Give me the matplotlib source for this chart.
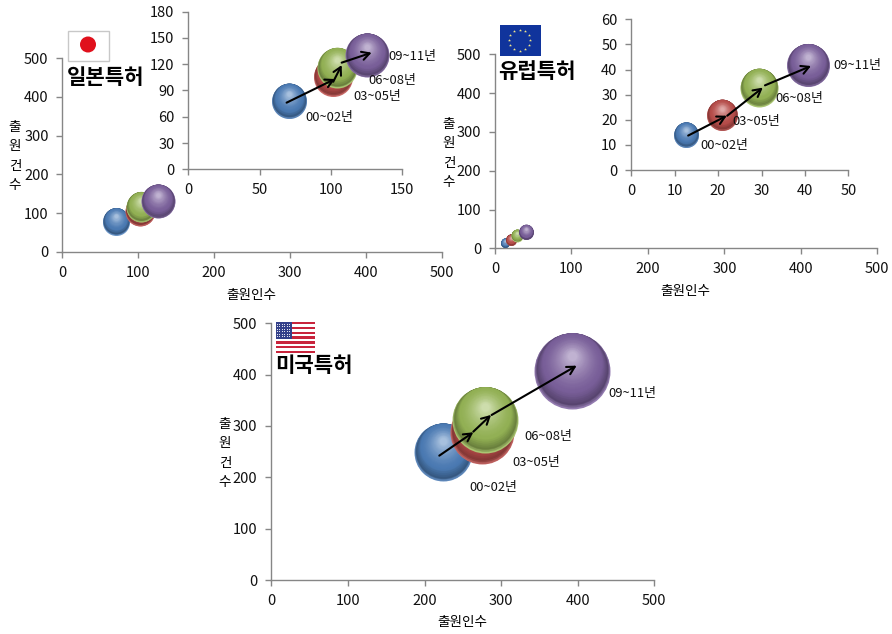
#!/usr/bin/env python3
# -*- coding: utf-8 -*-

import numpy as np
import matplotlib
matplotlib.use('Agg')
import matplotlib.pyplot as plt
from matplotlib.colors import to_rgb
from matplotlib.patches import Rectangle, Circle
from matplotlib.transforms import ScaledTranslation

plt.rcParams['font.family'] = ['Noto Sans CJK KR', 'DejaVu Sans']

W, H = 892, 634

periods = ['00~02년', '03~05년', '06~08년', '09~11년']
colors = ['#4f81bd', '#c0504d', '#9bbb59', '#8064a2']

# values
jp_x = [70.8, 101.6, 104, 125.5]
jp_y = [78, 105.8, 116, 130]
eu_x = [12.7, 21, 29.4, 40.6]
eu_y = [14, 21.9, 32.8, 41.7]
us_x = [224.5, 274.6, 278.5, 392.5]
us_y = [248.7, 287.7, 311.7, 407]

# bubble diameters
jp_main_size = [27, 30, 30, 34]
jp_inset_size = [35, 39, 40, 44]
eu_main_size = [9, 11, 12, 15]
eu_inset_size = [25, 31, 38, 43]
us_size = [58, 64, 66, 76]

# arrows between the periods
jp_arrow_x = [(68.9, 102.8), (101.6, 107.5), (107.5, 128.5)]
jp_arrow_y = [(76.1, 103.1), (100, 119), (121.8, 133.2)]
eu_arrow_x = [(13.1, 22), (22.1, 30.3), (30.8, 41.4)]
eu_arrow_y = [(13.7, 21.6), (21.6, 32.8), (33.7, 41.4)]
us_arrow_x = [(219.3, 263.7), (263.7, 286.8), (287.6, 398.6)]
us_arrow_y = [(242.2, 287.7), (288.9, 321.4), (321.4, 417.5)]

main_ticks = [0, 100, 200, 300, 400, 500]
jp_xticks = [0, 50, 100, 150]
jp_yticks = [0, 30, 60, 90, 120, 150, 180]
eu_xticks = [0, 10, 20, 30, 40, 50]
eu_yticks = [0, 10, 20, 30, 40, 50, 60]

xlabel = '출원인수'
ylabel = '출\n원\n건\n수'
GREY = '#868686'


def px_axes(fig, x0, x1, ytop, ybot, zorder=1):
    ax = fig.add_axes([x0/W, 1-ybot/H, (x1-x0)/W, (ybot-ytop)/H], zorder=zorder)
    ax.patch.set_alpha(0)
    for s in ['top', 'right']:
        ax.spines[s].set_visible(False)
    for s in ['left', 'bottom']:
        ax.spines[s].set_color(GREY)
        ax.spines[s].set_linewidth(1)
    ax.tick_params(color=GREY, length=4, width=1, labelsize=10.5, pad=6,
                   labelcolor='#111111')
    return ax


def mix(a, b, t):
    a, b = np.array(to_rgb(a)), np.array(to_rgb(b))
    return tuple(a + (b-a)*t)


def bubble(ax, x, y, d, color, z):
    # sphere look: stacked discs touching the top edge first, so the pale rim
    # and dark band only show low down, then a soft light spot up top
    rim = mix(color, 'white', 0.15)
    dark = mix(color, 'black', 0.32)
    base = mix(color, 'black', 0.06)
    light = mix(color, 'white', 0.5)
    n = 40
    for i in range(n):
        t = i/(n-1)
        if t <= 0.35:
            size = d*(1-t*0.6)
            up = (d-size)/2
        else:
            u = (t-0.35)/0.65
            size = d*(0.79-0.67*u)
            up = d*(0.105+0.095*u)
        if t < 0.1:
            c = mix(rim, dark, t/0.1)
        elif t < 0.35:
            c = mix(dark, base, (t-0.1)/0.25)
        else:
            c = mix(base, light, ((t-0.35)/0.65)**1.5)
        tr = ax.transData + ScaledTranslation(0, up/100, ax.figure.dpi_scale_trans)
        ax.scatter([x], [y], s=(size*0.72)**2, color=[c], linewidths=0,
                   transform=tr, zorder=z+t, clip_on=False)


def bubbles(ax, xs, ys, sizes):
    for i in range(len(xs)):
        bubble(ax, xs[i], ys[i], sizes[i], colors[i], 3+i)


def arrows(ax, ax_x, ax_y):
    for (x0, x1), (y0, y1) in zip(ax_x, ax_y):
        ax.annotate('', xy=(x1, y1), xytext=(x0, y0), zorder=10,
                    arrowprops=dict(arrowstyle='->,head_length=0.55,head_width=0.3',
                                    color='black', lw=1.5, shrinkA=0, shrinkB=0))


def labels(ax, xs, ys, offs):
    for i in range(len(xs)):
        ax.annotate(periods[i], xy=(xs[i], ys[i]), xytext=offs[i],
                    textcoords='offset pixels', fontsize=9.3, va='center',
                    ha='left', color='#111111', zorder=11)


fig = plt.figure(figsize=(W/100, H/100), dpi=100)

# Japan
# =============================================================================
ax = px_axes(fig, 62.5, 441.7, 58.3, 251.7)
ax.set(xlim=(0, 500), ylim=(0, 500), xticks=main_ticks, yticks=main_ticks)
bubbles(ax, jp_x, jp_y, jp_main_size)

ins = px_axes(fig, 188.3, 402.3, 11.7, 169.3, zorder=2)
ins.set(xlim=(0, 150), ylim=(0, 180), xticks=jp_xticks, yticks=jp_yticks)
bubbles(ins, jp_x, jp_y, jp_inset_size)
arrows(ins, jp_arrow_x, jp_arrow_y)
labels(ins, jp_x, jp_y, [(16, -16), (20, -20), (32, -13), (21, -1)])

# Europe
# =============================================================================
ax = px_axes(fig, 495, 877.3, 54.3, 248.3)
ax.set(xlim=(0, 500), ylim=(0, 500), xticks=main_ticks, yticks=main_ticks)
bubbles(ax, eu_x, eu_y, eu_main_size)

ins = px_axes(fig, 631.3, 848.3, 19.3, 170, zorder=2)
ins.set(xlim=(0, 50), ylim=(0, 60), xticks=eu_xticks, yticks=eu_yticks)
bubbles(ins, eu_x, eu_y, eu_inset_size)
arrows(ins, eu_arrow_x, eu_arrow_y)
labels(ins, eu_x, eu_y, [(14, -11), (10, -7), (16, -11), (26, 0)])

# US
# =============================================================================
ax = px_axes(fig, 271.3, 654.3, 323.3, 580)
ax.set(xlim=(0, 500), ylim=(0, 500), xticks=main_ticks, yticks=main_ticks)
bubbles(ax, us_x, us_y, us_size)
arrows(ax, us_arrow_x, us_arrow_y)
labels(ax, us_x, us_y, [(26, -35), (31, -30), (40, -17), (36, -22)])

# Overlay in pixel coordinates for flags and loose text
# =============================================================================
top = fig.add_axes([0, 0, 1, 1], zorder=5)
top.set_xlim(0, W)
top.set_ylim(H, 0)
top.axis('off')

# japanese flag
top.add_patch(Rectangle((67.5, 30.5), 41, 30, fc='white', ec='#c8c8c8', lw=1))
top.add_patch(Circle((88, 44.5), 8, fc='#e0101c', ec='none'))

# eu flag
top.add_patch(Rectangle((500, 25), 40.5, 31, fc='#10349c', ec='none'))
ang = np.linspace(0, 2*np.pi, 12, endpoint=False)
top.scatter(519.5+10.5*np.cos(ang), 40+10.5*np.sin(ang), s=5, marker='*',
            color='#f4e88a', linewidths=0)

# us flag
for i in range(13):
    c = '#c8243c' if i % 2 == 0 else 'white'
    top.add_patch(Rectangle((275.5, 322+i*2.4), 39.5, 2.4, fc=c, ec='none'))
top.add_patch(Rectangle((275.5, 322), 16, 16.8, fc='#33408a', ec='none'))
gx, gy = np.meshgrid(np.arange(277, 291, 2.4), np.arange(324, 338, 2.4))
top.scatter(gx.ravel(), gy.ravel(), s=0.6, color='white', linewidths=0)

# big titles
top.text(66.5, 77, '일본특허', fontsize=15.2, fontweight='bold', va='center', ha='left')
top.text(498.5, 71, '유럽특허', fontsize=15.2, fontweight='bold', va='center', ha='left')
top.text(275.5, 365, '미국특허', fontsize=15.2, fontweight='bold', va='center', ha='left')

# axis titles
top.text(251, 295, xlabel, fontsize=9.8, ha='center', va='center')
top.text(685, 291, xlabel, fontsize=9.8, ha='center', va='center')
top.text(462, 622, xlabel, fontsize=9.8, ha='center', va='center')
top.text(15, 156, ylabel, fontsize=9.8, ha='center', va='center', linespacing=1.5)
top.text(449, 153, ylabel, fontsize=9.8, ha='center', va='center', linespacing=1.5)
top.text(225, 453, ylabel, fontsize=9.8, ha='center', va='center', linespacing=1.5)

fig.savefig('out.png', dpi=100)
